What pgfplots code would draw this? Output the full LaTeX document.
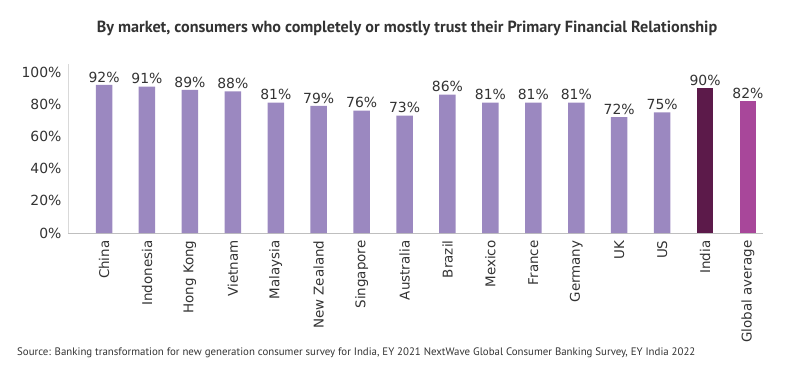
\documentclass[border=0pt]{standalone}
\usepackage{pgfplots}
\pgfplotsset{compat=1.18}
\usepackage{fontspec}
\setmainfont{DejaVu Sans}
\newfontfamily\titlefont{PT Sans}
\definecolor{barc}{HTML}{9B88C0}
\definecolor{indiac}{HTML}{5C1A4A}
\definecolor{globc}{HTML}{A8479A}
\definecolor{txt}{HTML}{333333}
\begin{document}
\begin{tikzpicture}[x=1bp,y=1bp]
\path[use as bounding box] (0,0) rectangle (800,365);
\begin{axis}[
  at={(68bp,132bp)}, anchor=south west,
  scale only axis, width=695bp, height=169bp,
  xmin=-0.84, xmax=15.35, ymin=0, ymax=105,
  ybar, bar width=16.5bp, bar shift=0pt,
  axis x line*=bottom, axis y line*=left,
  x axis line style={draw=black!25, line width=0.8pt, -},
  y axis line style={draw=black!15, line width=0.8pt, -},
  major tick length=0pt,
  xtick={0,...,15},
  xticklabels={China,Indonesia,Hong Kong,Vietnam,Malaysia,New Zealand,Singapore,Australia,Brazil,Mexico,France,Germany,UK,US,India,Global average},
  xticklabel style={rotate=90, anchor=east, font=\fontsize{13.5}{15}\selectfont, text=txt, yshift=0bp, xshift=-4bp},
  ytick={0,20,40,60,80,100},
  yticklabel={\pgfmathprintnumber{\tick}\%},
  yticklabel style={font=\fontsize{14}{16}\selectfont, text=txt, xshift=-3bp},
  /pgf/number format/assume math mode=true,
  nodes near coords={\pgfmathprintnumber{\pgfplotspointmeta}\%},
  nodes near coords style={font=\fontsize{14}{16}\selectfont, text=txt, yshift=-1bp},
  every axis plot/.append style={draw=none},
]
\addplot[fill=barc] coordinates {(0,92) (1,91) (2,89) (3,88) (4,81) (5,79) (6,76) (7,73) (8,86) (9,81) (10,81) (11,81) (12,72) (13,75)};
\addplot[fill=indiac] coordinates {(14,90)};
\addplot[fill=globc] coordinates {(15,82)};
\end{axis}
\node[font=\titlefont\bfseries\fontsize{16.2}{19}\selectfont, text=txt] at (407,337) {By market, consumers who completely or mostly trust their Primary Financial Relationship};
\node[font=\titlefont\fontsize{10.9}{12}\selectfont, text=txt, anchor=west, inner sep=0pt] at (17,12) {Source: Banking transformation for new generation consumer survey for India, EY 2021 NextWave Global Consumer Banking Survey, EY India 2022};
\end{tikzpicture}
\end{document}
